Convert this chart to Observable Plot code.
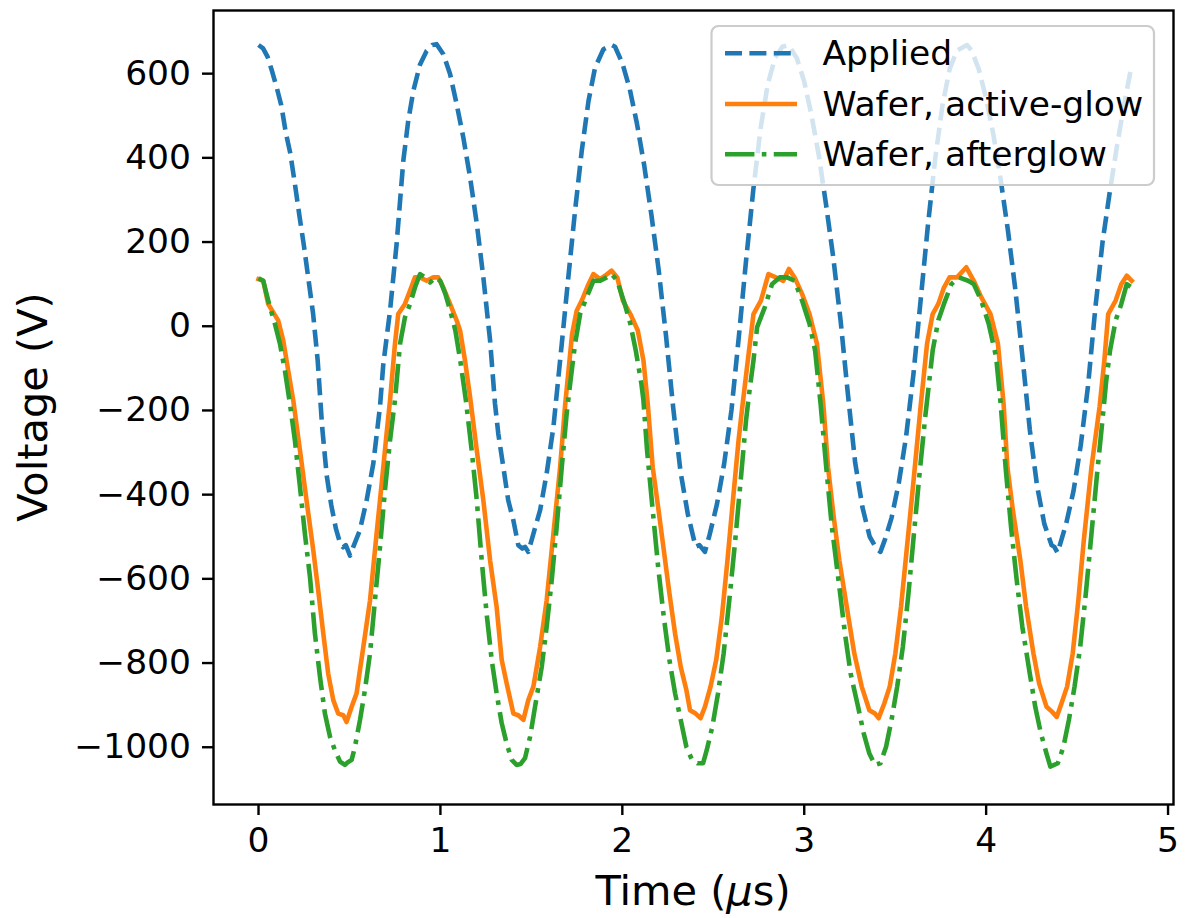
<!DOCTYPE html>
<html>
<head>
<meta charset="utf-8">
<script src="https://cdn.jsdelivr.net/npm/d3@7"></script>
<script src="https://cdn.jsdelivr.net/npm/@observablehq/plot@0.6"></script>
<style>
  body { margin: 0; background: #fff; }
  #chart { width: 1190px; height: 918px; }
</style>
</head>
<body>
<div id="chart"></div>
<script>
// ---- Data ----
const appliedT = [0.000,0.025,0.050,0.075,0.100,0.125,0.150,0.175,0.200,0.225,0.250,0.275,0.300,0.325,0.350,0.375,0.400,0.425,0.450,0.465,0.480,0.503,0.521,0.557,0.594,0.631,0.668,0.686,0.723,0.759,0.796,0.823,0.851,0.888,0.924,0.955,0.979,1.016,1.053,1.089,1.126,1.163,1.200,1.236,1.273,1.300,1.318,1.346,1.373,1.401,1.428,1.450,1.465,1.483,1.511,1.548,1.584,1.621,1.667,1.703,1.740,1.777,1.814,1.850,1.896,1.942,1.960,2.000,2.040,2.080,2.120,2.160,2.200,2.240,2.280,2.320,2.360,2.403,2.424,2.454,2.480,2.520,2.560,2.600,2.640,2.680,2.720,2.760,2.800,2.840,2.880,2.915,2.960,3.000,3.040,3.080,3.120,3.160,3.200,3.240,3.280,3.320,3.360,3.389,3.400,3.419,3.445,3.480,3.520,3.560,3.600,3.640,3.680,3.720,3.760,3.800,3.840,3.895,3.920,3.960,4.000,4.040,4.080,4.120,4.160,4.200,4.240,4.280,4.320,4.360,4.375,4.393,4.440,4.480,4.520,4.560,4.600,4.640,4.680,4.720,4.760,4.800];
const appliedV = [668,660,640,605,567,525,460,410,338,262,190,110,30,-80,-240,-355,-425,-480,-518,-525,-520,-545,-524,-485,-414,-326,-190,-90,37,195,393,488,559,622,654,668,670,646,599,528,448,354,243,116,-34,-184,-255,-335,-414,-461,-520,-528,-524,-536,-493,-437,-350,-240,-42,116,274,417,535,614,658,668,664,625,565,482,383,264,133,-22,-195,-346,-446,-524,-520,-536,-495,-423,-326,-199,-27,155,324,470,576,638,664,668,636,581,501,406,289,162,13,-161,-324,-430,-500,-522,-530,-536,-505,-455,-372,-262,-115,62,240,398,525,612,655,668,655,610,541,455,348,227,89,-74,-246,-379,-470,-520,-524,-538,-469,-392,-283,-142,42,200,320,430,530,620];

const activeT = [0.000,0.026,0.053,0.081,0.108,0.136,0.163,0.191,0.228,0.264,0.301,0.328,0.356,0.383,0.411,0.438,0.466,0.484,0.512,0.539,0.576,0.613,0.649,0.677,0.704,0.723,0.750,0.768,0.805,0.833,0.860,0.888,0.924,0.961,0.988,1.016,1.053,1.089,1.108,1.135,1.163,1.200,1.236,1.273,1.309,1.337,1.364,1.401,1.428,1.456,1.483,1.511,1.548,1.584,1.621,1.658,1.685,1.724,1.749,1.777,1.814,1.841,1.878,1.905,1.941,1.972,2.003,2.044,2.085,2.116,2.140,2.167,2.197,2.228,2.259,2.290,2.321,2.352,2.372,2.403,2.430,2.454,2.485,2.516,2.547,2.578,2.608,2.639,2.660,2.690,2.721,2.762,2.803,2.844,2.885,2.916,2.947,2.988,3.029,3.070,3.105,3.131,3.162,3.193,3.234,3.275,3.316,3.358,3.389,3.409,3.440,3.470,3.501,3.532,3.563,3.594,3.640,3.675,3.706,3.737,3.768,3.799,3.840,3.891,3.932,3.973,4.024,4.065,4.096,4.117,4.147,4.188,4.220,4.260,4.291,4.332,4.363,4.388,4.414,4.445,4.476,4.507,4.537,4.579,4.624,4.650,4.671,4.712,4.743,4.773,4.800];
const activeV = [112,108,53,33,14,-34,-105,-176,-295,-414,-532,-627,-730,-825,-888,-920,-924,-940,-904,-872,-762,-651,-493,-374,-255,-176,-42,29,53,85,116,116,108,116,116,92,53,14,-10,-81,-168,-295,-414,-556,-667,-793,-848,-920,-924,-935,-888,-856,-762,-651,-493,-335,-190,-18,37,61,100,124,112,120,132,116,61,29,-10,-81,-185,-335,-430,-532,-635,-730,-809,-864,-912,-920,-931,-904,-856,-793,-691,-556,-414,-271,-190,-81,29,61,124,116,108,136,116,77,29,-42,-185,-335,-453,-556,-667,-777,-856,-912,-920,-931,-896,-856,-777,-667,-532,-398,-190,-42,29,53,92,116,116,140,108,69,29,-42,-185,-335,-437,-556,-667,-777,-848,-904,-916,-928,-896,-856,-777,-651,-508,-335,-190,-81,29,61,100,120,108];

const afterT = [0.000,0.026,0.044,0.063,0.090,0.118,0.145,0.173,0.200,0.228,0.255,0.283,0.310,0.338,0.365,0.393,0.420,0.448,0.475,0.490,0.512,0.530,0.558,0.585,0.613,0.640,0.668,0.695,0.723,0.750,0.778,0.805,0.833,0.860,0.888,0.915,0.944,0.972,0.999,1.027,1.054,1.082,1.109,1.140,1.172,1.200,1.227,1.254,1.282,1.309,1.337,1.364,1.392,1.419,1.440,1.465,1.493,1.520,1.557,1.584,1.612,1.639,1.667,1.694,1.715,1.740,1.768,1.804,1.841,1.878,1.914,1.941,1.972,2.013,2.044,2.074,2.105,2.116,2.136,2.167,2.197,2.228,2.259,2.290,2.321,2.352,2.383,2.413,2.444,2.464,2.495,2.526,2.557,2.588,2.619,2.649,2.680,2.700,2.721,2.741,2.783,2.823,2.865,2.906,2.947,2.988,3.029,3.060,3.090,3.121,3.152,3.193,3.224,3.255,3.296,3.327,3.358,3.389,3.419,3.450,3.480,3.511,3.542,3.573,3.603,3.634,3.665,3.690,3.706,3.737,3.768,3.809,3.850,3.901,3.932,3.973,4.014,4.055,4.080,4.107,4.137,4.168,4.199,4.240,4.270,4.301,4.332,4.353,4.394,4.425,4.455,4.486,4.517,4.548,4.579,4.610,4.641,4.660,4.681,4.712,4.743,4.773,4.800];
const afterV = [114,108,77,45,6,-42,-105,-185,-271,-382,-493,-596,-730,-833,-920,-975,-1007,-1034,-1042,-1036,-1030,-999,-935,-864,-777,-651,-524,-390,-271,-176,-42,21,53,92,124,116,104,116,108,77,37,-10,-81,-176,-295,-414,-556,-683,-793,-872,-943,-991,-1030,-1042,-1040,-1026,-975,-904,-809,-714,-603,-477,-335,-208,-130,-42,29,69,108,108,116,124,108,53,6,-58,-137,-176,-295,-437,-572,-691,-793,-872,-935,-999,-1030,-1038,-1038,-1007,-951,-872,-777,-651,-516,-374,-224,-150,-81,-2,45,100,116,116,108,61,6,-58,-185,-335,-477,-619,-730,-825,-904,-967,-1015,-1042,-1038,-999,-935,-856,-762,-635,-493,-350,-216,-120,-58,14,53,100,116,108,100,61,6,-73,-185,-335,-477,-603,-714,-825,-904,-967,-1015,-1046,-1038,-999,-935,-856,-762,-635,-493,-350,-216,-130,-58,14,53,100,92];

const seriesNames  = ["Applied", "Wafer, active-glow", "Wafer, afterglow"];
const seriesColors = ["#1f77b4", "#ff7f0e", "#2ca02c"];
const xTicks = [0, 1, 2, 3, 4, 5];
const yTicks = [-1000, -800, -600, -400, -200, 0, 200, 400, 600];
const xLabelParts = ["Time (", "\u03bc", "s)"];
const yLabel = "Voltage (V)";

// ---- Styles ----
const LW = 4.6;
const dashes = [`${3.7*LW},${1.6*LW}`, null, `${6.4*LW},${1.6*LW},${1*LW},${1.6*LW}`];
const tickFont = 34.5, labelFont = 41.5, legendFont = 34.5;

const rows = (T, V) => T.map((t, i) => ({t, v: V[i]}));
const fmt = d => d < 0 ? "\u2212" + Math.abs(d) : String(d);

const lineOpts = (k) => ({
  x: "t", y: "v", stroke: seriesColors[k], strokeWidth: LW,
  strokeLinecap: dashes[k] ? "butt" : "square", strokeLinejoin: "round",
  ...(dashes[k] ? {strokeDasharray: dashes[k]} : {})
});

const chart = Plot.plot({
  width: 1190, height: 918,
  marginTop: 10, marginRight: 17, marginBottom: 114, marginLeft: 213,
  x: {domain: [-0.2475, 5.03]},
  y: {domain: [-1136, 750]},
  style: {fontFamily: "'DejaVu Sans', sans-serif", fontSize: tickFont + "px", background: "#fff", color: "#000"},
  marks: [
    Plot.line(rows(appliedT, appliedV), lineOpts(0)),
    Plot.line(rows(activeT, activeV), lineOpts(1)),
    Plot.line(rows(afterT, afterV), lineOpts(2)),
    Plot.frame({stroke: "#000", strokeWidth: 2.4}),
    Plot.axisX({ticks: xTicks, tickSize: 11, tickPadding: 11.5, tickFormat: fmt, label: null, fontSize: tickFont, strokeWidth: 2.4}),
    Plot.axisY({ticks: yTicks, tickSize: 11, tickPadding: 11.5, tickFormat: fmt, label: null, fontSize: tickFont, strokeWidth: 2.4})
  ]
});

document.getElementById("chart").appendChild(chart);

// ---- Axis labels & legend (drawn on the plot's SVG) ----
const svg = d3.select(chart);
const xr = chart.scale("x").range, yr = chart.scale("y").range;
const cx = (xr[0] + xr[1]) / 2, cy = (yr[0] + yr[1]) / 2;

const xl = svg.append("text")
  .attr("x", cx).attr("y", 905)
  .attr("text-anchor", "middle").attr("font-size", labelFont).attr("fill", "#000")
  .attr("font-family", "'DejaVu Sans', sans-serif");
xl.append("tspan").text(xLabelParts[0]);
xl.append("tspan").attr("font-style", "italic").text(xLabelParts[1]);
xl.append("tspan").text(xLabelParts[2]);

svg.append("text")
  .attr("transform", `translate(47,${cy}) rotate(-90)`)
  .attr("text-anchor", "middle").attr("font-size", labelFont).attr("fill", "#000")
  .attr("font-family", "'DejaVu Sans', sans-serif")
  .text(yLabel);

const lg = svg.append("g").attr("font-family", "'DejaVu Sans', sans-serif").attr("text-anchor", "start");
lg.append("rect")
  .attr("x", 711.5).attr("y", 26).attr("width", 442.5).attr("height", 159)
  .attr("rx", 7).attr("ry", 7)
  .attr("fill", "#fff").attr("fill-opacity", 0.8)
  .attr("stroke", "#cccccc").attr("stroke-width", 2.2);
const rowY = [53.3, 104, 154.3];
seriesNames.forEach((name, k) => {
  const ln = lg.append("line")
    .attr("x1", 725).attr("x2", 797).attr("y1", rowY[k]).attr("y2", rowY[k])
    .attr("stroke", seriesColors[k]).attr("stroke-width", LW)
    .attr("stroke-linecap", "butt");
  if (dashes[k]) ln.attr("stroke-dasharray", dashes[k]);
  lg.append("text")
    .attr("x", 822.5).attr("y", rowY[k] + 11.5)
    .attr("text-anchor", "start")
    .attr("font-size", legendFont).attr("fill", "#000")
    .text(name);
});
</script>
</body>
</html>
